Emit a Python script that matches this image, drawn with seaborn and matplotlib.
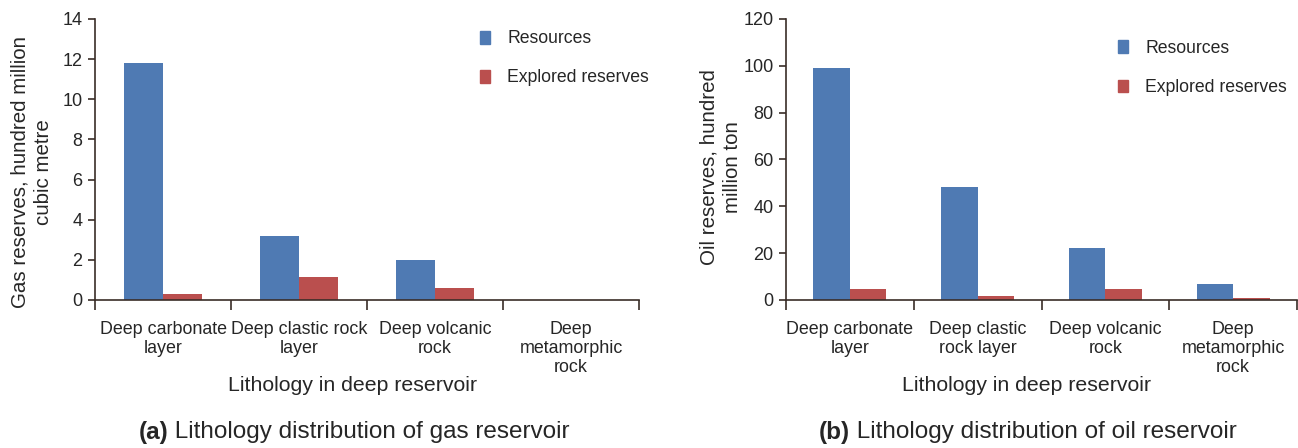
import matplotlib
matplotlib.use("Agg")
import matplotlib.pyplot as plt
import seaborn as sns
import pandas as pd

sns.set_theme(style="white")
plt.rcParams["font.family"] = ["Liberation Sans", "DejaVu Sans"]

# Gas reservoir (hundred million cubic metre)
gas_categories = ["Deep carbonate\nlayer", "Deep clastic rock\nlayer",
                  "Deep volcanic\nrock", "Deep\nmetamorphic\nrock"]
gas_resources = [11.8, 3.2, 2.0, 0.0]
gas_explored = [0.3, 1.15, 0.6, 0.0]

# Oil reservoir (hundred million ton)
oil_categories = ["Deep carbonate\nlayer", "Deep clastic\nrock layer",
                  "Deep volcanic\nrock", "Deep\nmetamorphic\nrock"]
oil_resources = [99.0, 48.4, 22.3, 6.8]
oil_explored = [4.7, 1.6, 4.7, 0.8]

series_names = ["Resources", "Explored reserves"]
palette = {"Resources": "#4F7AB3", "Explored reserves": "#BA4F4E"}
spine_color = "#3a2d28"


def long_frame(cats, res, exp):
    rows = []
    for c, r, e in zip(cats, res, exp):
        rows.append({"cat": c, "series": series_names[0], "value": r})
        rows.append({"cat": c, "series": series_names[1], "value": e})
    return pd.DataFrame(rows)


fig = plt.figure(figsize=(12.98, 4.48), dpi=100)
W, H = 1298, 448
ax1 = fig.add_axes([95 / W, 1 - 300 / H, (639 - 95) / W, (300 - 19) / H])
ax2 = fig.add_axes([786 / W, 1 - 300 / H, (1297 - 786) / W, (300 - 19) / H])


def draw(ax, cats, res, exp, ymax, ystep, ylabel, ylabel_xy, xlabel_x, legend_xy):
    df = long_frame(cats, res, exp)
    sns.barplot(data=df, x="cat", y="value", hue="series", order=cats,
                hue_order=series_names, palette=palette, width=0.57,
                saturation=1, ax=ax, legend=False, edgecolor="none")
    ax.set_xlim(-0.5, len(cats) - 0.5)
    ax.set_ylim(0, ymax)
    ax.set_yticks(range(0, ymax + 1, ystep))
    ax.tick_params(axis="y", which="major", left=True, direction="out", length=5,
                   width=1.2, color=spine_color, labelsize=13, pad=4)
    ax.set_xticks(range(len(cats)))
    ax.set_xticklabels(cats, fontsize=12.9, linespacing=1.15)
    ax.tick_params(axis="x", which="major", bottom=True, length=0, pad=15)
    ax.set_xticks([i - 0.5 for i in range(len(cats) + 1)], minor=True)
    ax.tick_params(axis="x", which="minor", bottom=True, direction="out", length=7,
                   width=1.2, color=spine_color)
    for s in ["top", "right"]:
        ax.spines[s].set_visible(False)
    for s in ["left", "bottom"]:
        ax.spines[s].set_color(spine_color)
        ax.spines[s].set_linewidth(1.2)
    ax.set_xlabel("Lithology in deep reservoir", fontsize=15.3, va="top")
    ax.xaxis.set_label_coords(xlabel_x, -0.27)
    ax.set_ylabel(ylabel, fontsize=14.8, linespacing=1.3)
    ax.yaxis.set_label_coords(*ylabel_xy)
    ax.grid(False)
    handles = [plt.Rectangle((0, 0), 1, 1, color=palette[n]) for n in series_names]
    ax.legend(handles, series_names, loc="upper left", bbox_to_anchor=legend_xy,
              frameon=False, fontsize=12.7, handlelength=0.55, handleheight=0.75,
              labelspacing=1.25, handletextpad=1.0, borderpad=0, borderaxespad=0)


draw(ax1, gas_categories, gas_resources, gas_explored, 14, 2,
     "Gas reserves, hundred million\ncubic metre", (-0.077, 0.456), 0.474,
     (0.708, 0.96))
draw(ax2, oil_categories, oil_resources, oil_explored, 120, 20,
     "Oil reserves, hundred\nmillion ton", (-0.086, 0.473), 0.47,
     (0.65, 0.925))

# Panel captions with a bold tag followed by regular text
fig.canvas.draw()
renderer = fig.canvas.get_renderer()
for tag, rest, cx in [("(a)", " Lithology distribution of gas reservoir", 354),
                      ("(b)", " Lithology distribution of oil reservoir", 1028)]:
    t1 = fig.text(0, 0, tag, fontsize=17.5, fontweight="bold", va="center")
    t2 = fig.text(0, 0, rest, fontsize=17.5, va="center")
    w1 = t1.get_window_extent(renderer).width
    w2 = t2.get_window_extent(renderer).width
    x0 = cx - (w1 + w2) / 2
    y = 1 - 432 / H
    t1.set_position((x0 / W, y))
    t2.set_position(((x0 + w1) / W, y))

fig.savefig("out.png", dpi=100)
